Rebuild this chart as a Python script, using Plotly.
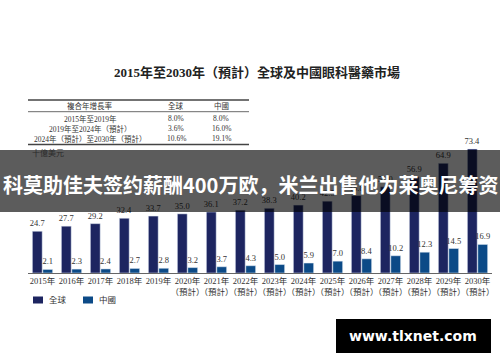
import plotly.graph_objects as go

years = ["2015", "2016", "2017", "2018", "2019", "2020", "2021", "2022",
         "2023", "2024", "2025", "2026", "2027", "2028", "2029", "2030"]
forecast_from = "2020"
global_vals = [24.7, 27.7, 29.2, 32.4, 33.7, 35.0, 36.1, 37.2,
               38.3, 40.2, 42.5, 45.8, 51.0, 56.9, 64.9, 73.4]
china_vals = [2.1, 2.3, 2.4, 2.7, 2.8, 3.2, 3.7, 4.3,
              5.0, 5.9, 7.0, 8.4, 10.2, 12.3, 14.5, 16.9]
series_names = ["全球", "中國"]

title_text = "2015年至2030年（預計）全球及中國眼科醫藥市場"
table_header = ["複合年增長率", "全球", "中國"]
table_periods = ["2015年至2019年", "2019年至2024年（預計）", "2024年（預計）至2030年（預計）"]
table_global = ["8.0%", "3.6%", "10.6%"]
table_china = ["8.0%", "16.0%", "19.1%"]
unit_text = "十億美元"
banner_text = "科莫助佳夫签约薪酬400万欧，米兰出售他为莱奥尼筹资"
watermark_text = "www.tlxnet.com"

# ---------------- layout geometry ----------------
W, Hh = 500, 362
L, R, T, B = 28, 8, 140, 89
PW = W - L - R
PH = Hh - T - B
BASE = Hh - B


def xp(px):
    return (px - L) / PW


def yp(py):
    return (BASE - py) / PH


SERIF = "Liberation Serif, Noto Sans CJK TC, serif"
SANS = "Noto Sans CJK SC, sans-serif"
C_GLOBAL = "#1d2560"
C_CHINA = "#0c4a87"
TXT = "#333333"

cats = [y + "年" + ("<br>（預計）" if int(y) >= int(forecast_from) else "") for y in years]

fig = go.Figure()
fig.add_trace(go.Bar(x=cats, y=global_vals, name=series_names[0], marker_color=C_GLOBAL,
                     text=[f"{v:.1f}" for v in global_vals], textposition="outside",
                     constraintext="none",
                     textfont=dict(family=SERIF, size=8.5, color=TXT), cliponaxis=False))
fig.add_trace(go.Bar(x=cats, y=china_vals, name=series_names[1], marker_color=C_CHINA,
                     text=[f"{v:.1f}" for v in china_vals], textposition="outside",
                     constraintext="none",
                     textfont=dict(family=SERIF, size=8.5, color=TXT), cliponaxis=False))

shapes = []
ann = []

# title
ann.append(dict(x=xp(257), y=yp(72.5), text="<b>" + title_text + "</b>",
                font=dict(family=SERIF, size=13, color="#222222")))

# table
for py, w in [(100, 1.3), (111.7, 0.8), (144.5, 1.3)]:
    shapes.append(dict(type="line", xref="paper", yref="paper", x0=xp(28), x1=xp(249),
                       y0=yp(py), y1=yp(py), line=dict(color="#444444", width=w)))
col_x = [90, 176, 221]
for j in range(3):
    ann.append(dict(x=xp(col_x[j]), y=yp(105.5), text=table_header[j],
                    font=dict(family=SERIF, size=7.5, color=TXT)))
for i, py in enumerate([118.5, 128.5, 138.5]):
    ann.append(dict(x=xp(col_x[0]), y=yp(py), text=table_periods[i], font=dict(family=SERIF, size=7.5, color=TXT)))
    ann.append(dict(x=xp(col_x[1]), y=yp(py), text=table_global[i], font=dict(family=SERIF, size=7.5, color=TXT)))
    ann.append(dict(x=xp(col_x[2]), y=yp(py), text=table_china[i], font=dict(family=SERIF, size=7.5, color=TXT)))

# unit
ann.append(dict(x=xp(30), y=yp(153), xanchor="left", text=unit_text,
                font=dict(family=SERIF, size=8, color="#2a2a2a")))

# banner overlay
shapes.append(dict(type="rect", xref="paper", yref="paper", x0=xp(0), x1=xp(500),
                   y0=yp(212), y1=yp(150), fillcolor="rgba(0,0,0,0.64)",
                   line=dict(width=0), layer="above"))
ann.append(dict(x=xp(250), y=yp(184), text="<b>" + banner_text + "</b>",
                font=dict(family=SANS, size=20, color="white")))

# legend (manual)
for sx, tx, col, name in [(33, 47, C_GLOBAL, series_names[0]), (83, 97, C_CHINA, series_names[1])]:
    shapes.append(dict(type="rect", xref="paper", yref="paper", x0=xp(sx), x1=xp(sx + 10),
                       y0=yp(303.5), y1=yp(296.5), fillcolor=col, line=dict(width=0)))
    ann.append(dict(x=xp(tx), y=yp(300), xanchor="left", text=name,
                    font=dict(family=SERIF, size=8.5, color=TXT)))

# watermark
shapes.append(dict(type="rect", xref="paper", yref="paper", x0=xp(336), x1=xp(491),
                   y0=yp(353), y1=yp(319), fillcolor="black", line=dict(width=0), layer="above"))
ann.append(dict(x=xp(413), y=yp(336), text="<b>" + watermark_text + "</b>",
                font=dict(family="DejaVu Sans, sans-serif", size=14, color="white")))

for a in ann:
    a.setdefault("xref", "paper")
    a.setdefault("yref", "paper")
    a.setdefault("showarrow", False)
    a.setdefault("xanchor", "center")
    a.setdefault("yanchor", "middle")

fig.update_layout(
    width=W, height=Hh,
    margin=dict(l=L, r=R, t=T, b=B, autoexpand=False),
    paper_bgcolor="white", plot_bgcolor="white",
    barmode="group", bargap=0.28, bargroupgap=0.06,
    showlegend=False,
    shapes=shapes, annotations=ann,
    xaxis=dict(showline=True, linecolor="#666666", linewidth=1, ticks="",
               tickfont=dict(family=SERIF, size=8.5, color=TXT), tickangle=0,
               showgrid=False, zeroline=False, automargin=False),
    yaxis=dict(range=[0, 78.7], visible=False, showgrid=False, zeroline=False, automargin=False),
)

fig.write_html("out.html", config={"displayModeBar": False},
               post_script="document.body.style.margin='0px';")
